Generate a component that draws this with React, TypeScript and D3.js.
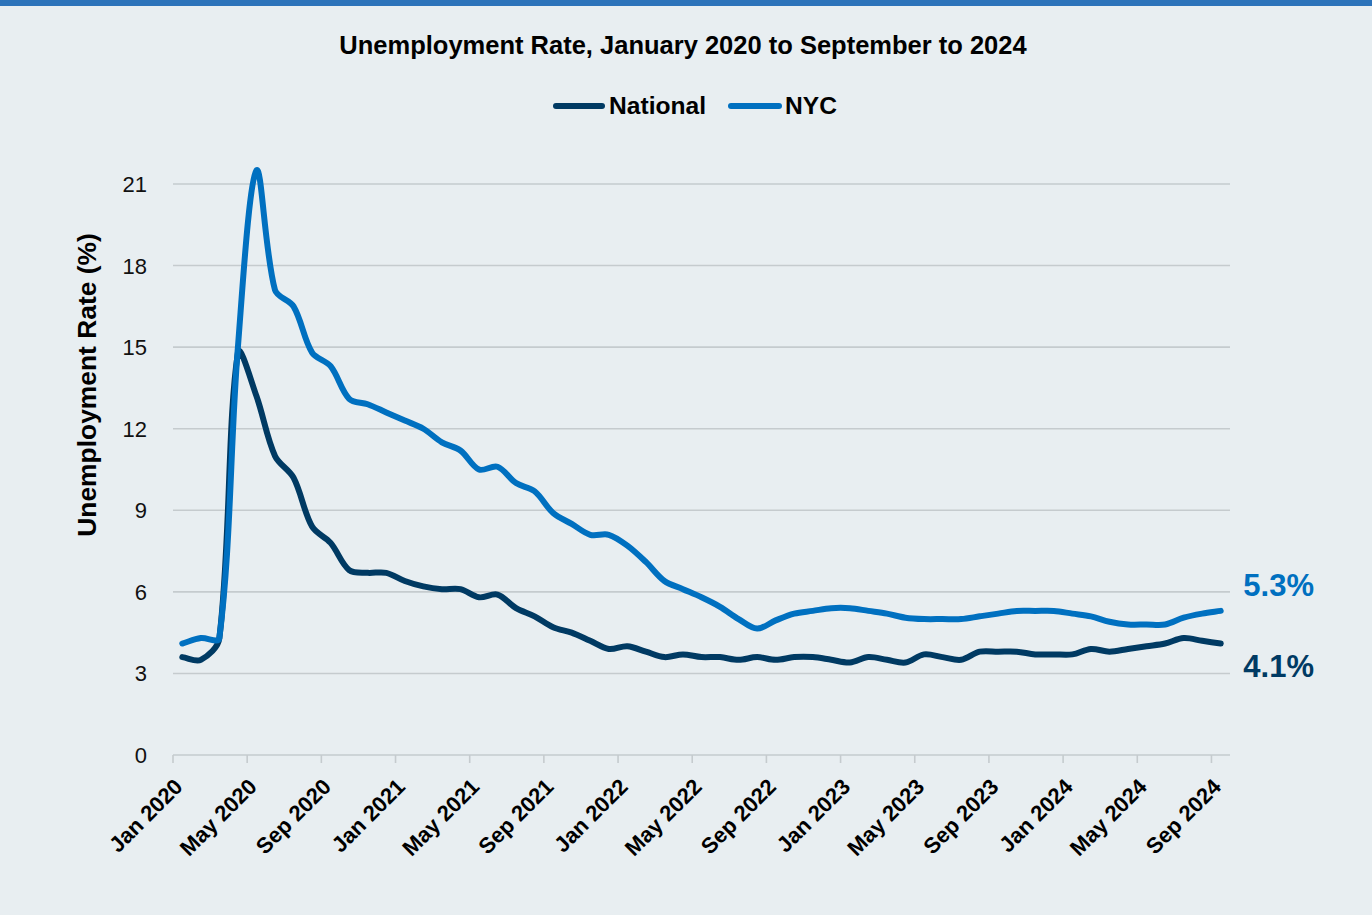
import React from "react";
import * as d3 from "d3";

const title = "Unemployment Rate, January 2020 to September to 2024";
const yTitle = "Unemployment Rate (%)";
const seriesNames = ["National", "NYC"];
const seriesColors = ["#003A63", "#0070C0"];

// Monthly, Jan 2020 .. Sep 2024 (57 months)
const national = [
  3.6, 3.5, 4.3, 14.8, 13.2, 11.0, 10.2, 8.4, 7.8, 6.8, 6.7, 6.7,
  6.4, 6.2, 6.1, 6.1, 5.8, 5.9, 5.4, 5.1, 4.7, 4.5, 4.2, 3.9,
  4.0, 3.8, 3.6, 3.7, 3.6, 3.6, 3.5, 3.6, 3.5, 3.6, 3.6, 3.5,
  3.4, 3.6, 3.5, 3.4, 3.7, 3.6, 3.5, 3.8, 3.8, 3.8, 3.7, 3.7,
  3.7, 3.9, 3.8, 3.9, 4.0, 4.1, 4.3, 4.2, 4.1,
];
const nyc = [
  4.1, 4.3, 4.3, 15.0, 21.5, 17.1, 16.5, 14.8, 14.3, 13.1, 12.9, 12.6,
  12.3, 12.0, 11.5, 11.2, 10.5, 10.6, 10.0, 9.7, 8.9, 8.5, 8.1, 8.1,
  7.7, 7.1, 6.4, 6.1, 5.8, 5.45, 5.0, 4.65, 4.95, 5.2, 5.3, 5.4,
  5.4, 5.3, 5.2, 5.05, 5.0, 5.0, 5.0, 5.1, 5.2, 5.3, 5.3, 5.3,
  5.2, 5.1, 4.9, 4.8, 4.8, 4.8, 5.05, 5.2, 5.3,
];
const tickLabels = [
  "Jan 2020", "May 2020", "Sep 2020", "Jan 2021", "May 2021", "Sep 2021",
  "Jan 2022", "May 2022", "Sep 2022", "Jan 2023", "May 2023", "Sep 2023",
  "Jan 2024", "May 2024", "Sep 2024",
];
const tickEvery = 4;
const yTicks = [0, 3, 6, 9, 12, 15, 18, 21];
const endLabels = ["4.1%", "5.3%"];

const W = 1372;
const H = 915;
const FONT = "'Liberation Sans', Arial, sans-serif";

// Spreadsheet-style smoothing: Bezier through every point, tangent along the
// neighbour chord, scaled by the relative length of the adjacent segments.
function curveSmooth(context: any) {
  let pts: [number, number][] = [];
  const dist = (a: [number, number], b: [number, number]) =>
    Math.hypot(b[0] - a[0], b[1] - a[1]);
  return {
    areaStart() {},
    areaEnd() {},
    lineStart() {
      pts = [];
    },
    point(x: number, y: number) {
      pts.push([+x, +y]);
    },
    lineEnd() {
      const n = pts.length;
      if (!n) return;
      context.moveTo(pts[0][0], pts[0][1]);
      for (let i = 0; i < n - 1; i++) {
        const p0 = pts[Math.max(0, i - 1)];
        const p1 = pts[i];
        const p2 = pts[i + 1];
        const p3 = pts[Math.min(n - 1, i + 2)];
        const d01 = dist(p0, p1);
        const d12 = dist(p1, p2);
        const d23 = dist(p2, p3);
        const f1 = d12 / (d01 + d12 || 1) / 3;
        const f2 = d12 / (d12 + d23 || 1) / 3;
        const c1x = p1[0] + (p2[0] - p0[0]) * f1;
        const c1y = p1[1] + (p2[1] - p0[1]) * f1;
        const c2x = p2[0] - (p3[0] - p1[0]) * f2;
        const c2y = p2[1] - (p3[1] - p1[1]) * f2;
        context.bezierCurveTo(c1x, c1y, c2x, c2y, p2[0], p2[1]);
      }
    },
  };
}

export default function App() {
  const idx = d3.range(national.length);
  const x = d3.scaleBand<number>().domain(idx).range([173, 1230]).padding(0);
  const bw = x.bandwidth();
  const cx = (i: number) => (x(i) as number) + bw / 2;
  const y = d3.scaleLinear().domain([0, 21]).range([755, 184]);

  const line = d3
    .line<number>()
    .x((_, i) => cx(i))
    .y((d) => y(d))
    .curve(curveSmooth as any);

  const series = [national, nyc];

  return (
    <svg
      width={W}
      height={H}
      style={{ position: "absolute", left: 0, top: 0, display: "block" }}
      fontFamily={FONT}
    >
      <rect x={0} y={0} width={W} height={H} fill="#E8EEF1" />
      <rect x={0} y={0} width={W} height={6} fill="#2C73BA" />

      <text x={683} y={54} textAnchor="middle" fontSize={25.5} fontWeight={700} fill="#000">
        {title}
      </text>

      {/* legend */}
      <g>
        <line x1={556} x2={602} y1={106} y2={106} stroke={seriesColors[0]} strokeWidth={6} strokeLinecap="round" />
        <text x={609} y={114} fontSize={24.6} fontWeight={700} fill="#000">{seriesNames[0]}</text>
        <line x1={731} x2={779} y1={106} y2={106} stroke={seriesColors[1]} strokeWidth={6} strokeLinecap="round" />
        <text x={785} y={114} fontSize={24.6} fontWeight={700} fill="#000">{seriesNames[1]}</text>
      </g>

      {/* gridlines */}
      {yTicks.map((t) => (
        <g key={t}>
          <line x1={173} x2={1230} y1={y(t)} y2={y(t)} stroke="#C5CBCE" strokeWidth={1.6} />
          <text x={147} y={y(t) + 8} textAnchor="end" fontSize={22} fill="#111">{t}</text>
        </g>
      ))}

      {/* x ticks */}
      {tickLabels.map((lab, k) => {
        const tx = x(k * tickEvery) as number;
        return (
          <g key={lab}>
            <line x1={tx} x2={tx} y1={755} y2={763} stroke="#C5CBCE" strokeWidth={1.6} />
            <text
              transform={`translate(${tx + 11},${788}) rotate(-45)`}
              textAnchor="end"
              fontSize={22}
              fontWeight={700}
              fill="#000"
            >
              {lab}
            </text>
          </g>
        );
      })}

      <text
        transform={`translate(96,385) rotate(-90)`}
        textAnchor="middle"
        fontSize={26.4}
        fontWeight={700}
        fill="#000"
      >
        {yTitle}
      </text>

      {series.map((s, k) => (
        <path
          key={k}
          d={line(s) || ""}
          fill="none"
          stroke={seriesColors[k]}
          strokeWidth={6}
          strokeLinecap="round"
          strokeLinejoin="round"
        />
      ))}

      <text x={1314} y={677} textAnchor="end" fontSize={31} fontWeight={700} fill={seriesColors[0]}>
        {endLabels[0]}
      </text>
      <text x={1314} y={596} textAnchor="end" fontSize={31} fontWeight={700} fill={seriesColors[1]}>
        {endLabels[1]}
      </text>
    </svg>
  );
}
